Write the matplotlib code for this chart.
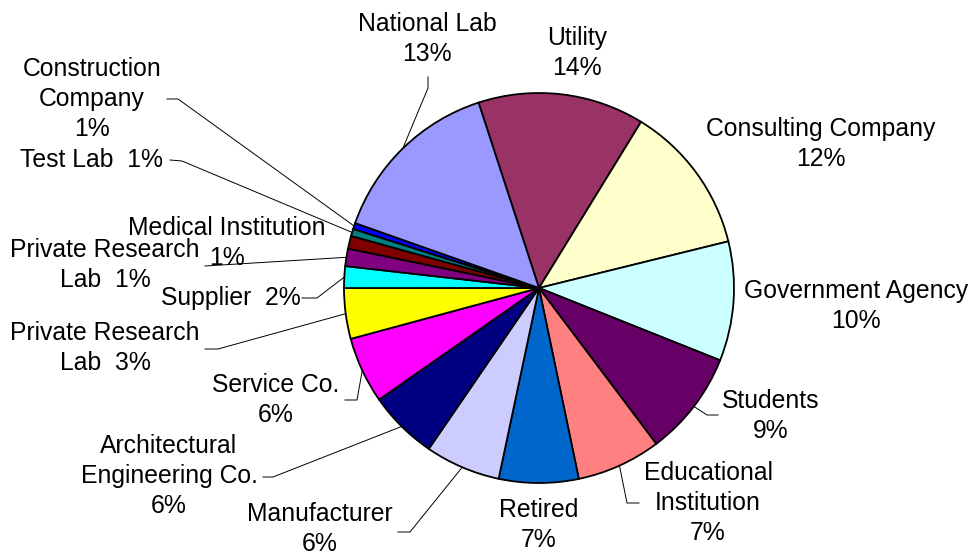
import numpy as np
import matplotlib.pyplot as plt

plt.rcParams["font.family"] = ["Liberation Sans", "DejaVu Sans"]

# slices, clockwise from the top (Utility first)
categories = ["Utility", "Consulting Company", "Government Agency", "Students",
              "Educational Institution", "Retired", "Manufacturer",
              "Architectural Engineering Co.", "Service Co.", "Private Research Lab",
              "Supplier", "Private Research Lab", "Medical Institution", "Test Lab",
              "Construction Company", "National Lab"]
shares = [13.8, 12.4, 9.9, 8.7, 7.0, 6.6, 6.25, 5.75, 5.5, 4.2,
          1.8, 1.45, 1.06, 0.6, 0.5, 14.6]
pct_labels = ["14%", "12%", "10%", "9%", "7%", "7%", "6%", "6%", "6%", "3%",
              "2%", "1%", "1%", "1%", "1%", "13%"]
colors = ["#993366", "#FFFFCC", "#CCFFFF", "#660066", "#FF8080", "#0066CC",
          "#CCCCFF", "#000080", "#FF00FF", "#FFFF00", "#00FFFF", "#800080",
          "#800000", "#008080", "#0000FF", "#9999FF"]

# how each label is broken into lines
label_text = ["Utility\n14%", "Consulting Company\n12%", "Government Agency\n10%",
              "Students\n9%", "Educational\nInstitution\n7%", "Retired\n7%",
              "Manufacturer\n6%", "Architectural\nEngineering Co.\n6%",
              "Service Co.\n6%", "Private Research\nLab  3%", "Supplier  2%",
              "Private Research\nLab  1%", "Medical Institution\n1%",
              "Test Lab  1%", "Construction\nCompany\n1%", "National Lab\n13%"]

W, H = 973, 557


def px(x, y):
    # pixel position (from top-left) -> data coords
    return x, H - y


# label block centres (pixels) and leader start / elbow (pixels)
label_pos = [(577, 53), (821, 144), (856, 306), (771, 416), (708, 503),
             (539, 525), (320, 529), (169, 476), (276, 400), (105, 348),
             (231, 298), (105, 265), (227, 243), (92, 160), (92, 99), (427, 39)]
leaders = [None, None, None, ((718, 415), (707, 415)), ((639, 503), (627, 503)),
           None, ((398, 532), (410, 532)), ((263, 477), (273, 477)),
           ((345, 400), (357, 400)), ((205, 349), (218, 349)),
           ((302, 298), (317, 298)), ((205, 266), (205, 266)), None,
           ((170, 160), (182, 161)), ((167, 99), (178, 99)),
           ((428, 77), (428, 88))]

fig = plt.figure(figsize=(W / 100, H / 100), dpi=100)
ax = fig.add_axes([0, 0, 1, 1])

cx, cy = px(539, 288)
r = 195
wedges, _ = ax.pie(shares, colors=colors, startangle=108.06, counterclock=False,
                   center=(cx, cy), radius=r,
                   wedgeprops=dict(edgecolor="black", linewidth=1.3))

ax.set_xlim(0, W)
ax.set_ylim(0, H)
ax.set_aspect("auto")
ax.axis("off")

for i, w in enumerate(wedges):
    tx, ty = px(*label_pos[i])
    ax.text(tx, ty, label_text[i], ha="center", va="center", fontsize=17.8,
            linespacing=1.33, multialignment="center")
    if leaders[i] is not None:
        mid = np.deg2rad((w.theta1 + w.theta2) / 2)
        ex, ey = cx + r * np.cos(mid), cy + r * np.sin(mid)
        (sx, sy), (bx, by) = [px(*p) for p in leaders[i]]
        ax.plot([sx, bx, ex], [sy, by, ey], color="black", linewidth=0.7)

fig.savefig("out.png", dpi=100)
